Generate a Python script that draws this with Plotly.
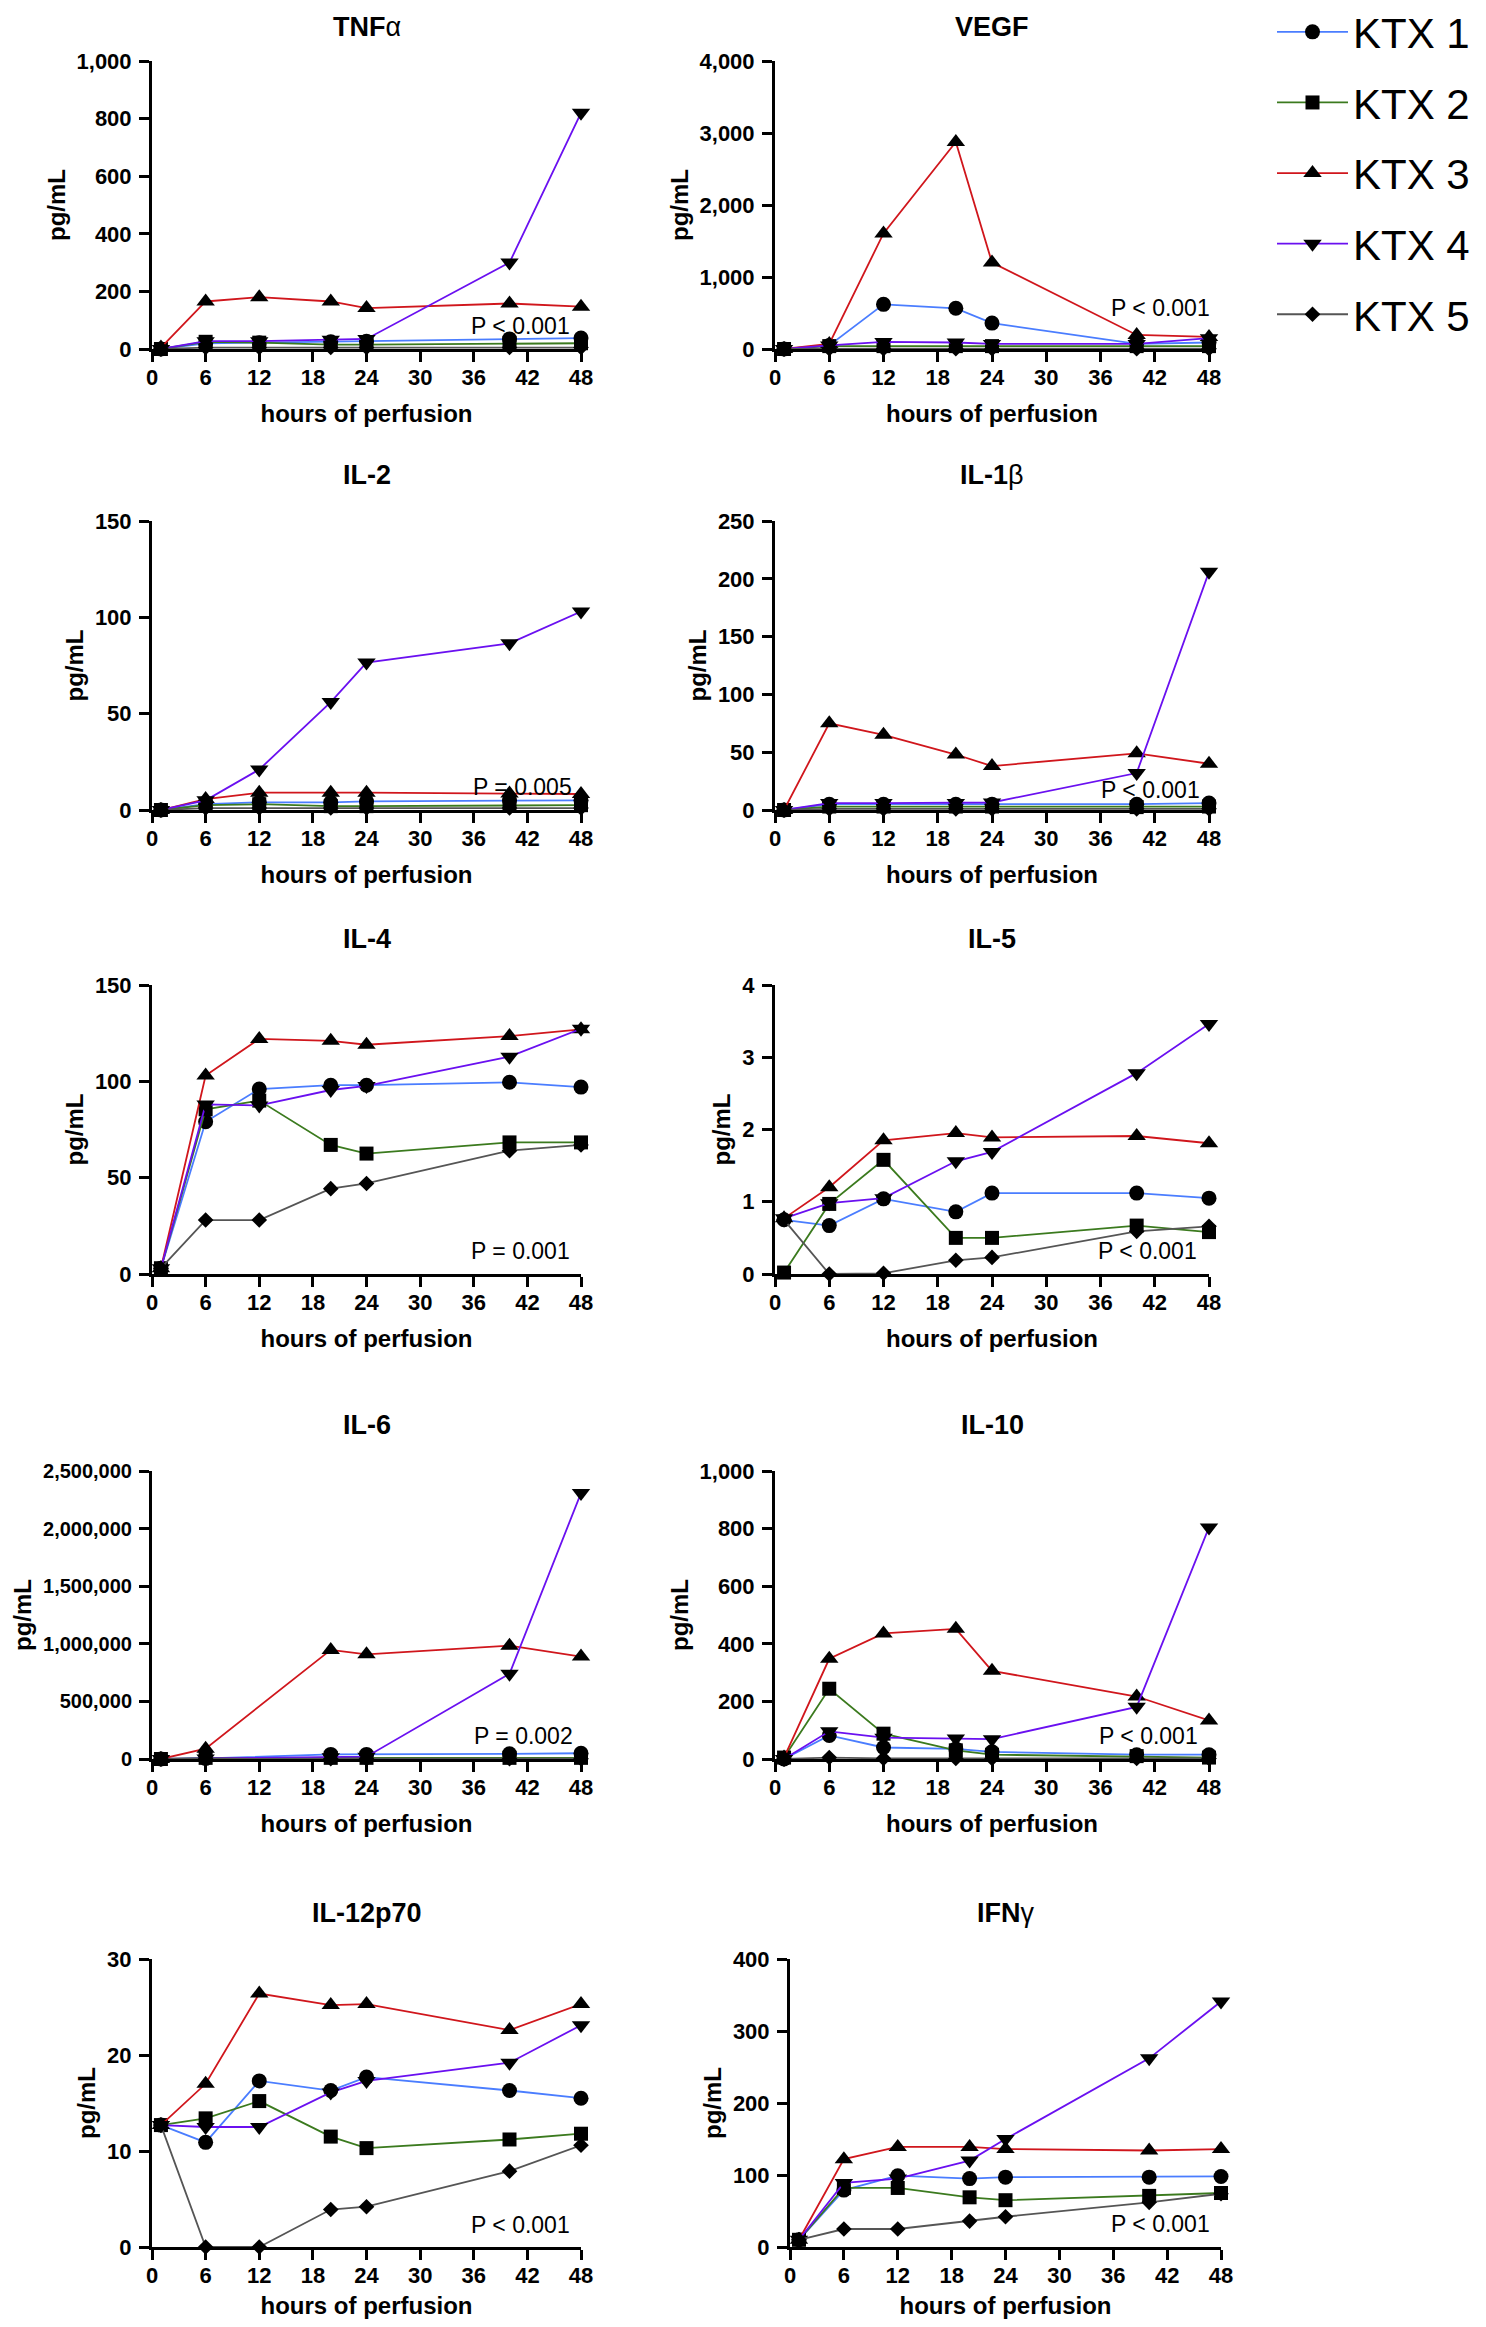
import plotly.graph_objects as go

# sampling times (hours of perfusion)
hours = [1, 6, 12, 20, 24, 40, 48]

ktx_names = ["KTX 1", "KTX 2", "KTX 3", "KTX 4", "KTX 5"]
ktx_colors = ["#4a7dff", "#3b7a1e", "#d0161c", "#6a10f0", "#555555"]
ktx_symbols = ["circle", "square", "triangle-up", "triangle-down", "diamond"]
ktx_sizes = [15, 14, 16, 16, 12]

# values per cytokine, one row per KTX (pg/mL)
tnfa = [
    [0, 20, 22, 25, 27, 35, 38],
    [0, 25, 22, 15, 15, 20, 20],
    [5, 165, 180, 165, 142, 158, 147],
    [0, 27, 27, 32, 35, 300, 820],
    [0, 5, 5, 5, 5, 5, 5],
]
vegf = [
    [0, 50, 620, 565, 360, 70, 90],
    [0, 40, 40, 40, 40, 40, 40],
    [0, 70, 1605, 2875, 1200, 195, 168],
    [0, 50, 98, 90, 70, 70, 150],
    [0, 5, 5, 5, 5, 5, 5],
]
il2 = [
    [0, 3, 4, 4, 4.5, 5, 5],
    [0, 2.5, 3, 2, 2, 2.5, 2.5],
    [0, 5.7, 9, 9, 9, 8.5, 8.3],
    [0, 5, 21, 56, 76.5, 86.5, 103],
    [0, 1, 1, 1, 1, 1, 1],
]
il1b = [
    [0, 5, 5, 5, 5, 5, 6],
    [0, 3, 3, 3, 3, 2.5, 3],
    [0, 75, 65, 48, 38, 49, 40],
    [0, 6, 6, 6, 6.5, 32, 206],
    [0, 1, 1, 1, 1, 1, 1],
]
il4 = [
    [3, 79, 96, 98, 98, 99.5, 97],
    [3, 85.5, 90, 67, 62.5, 68.3, 68.3],
    [3, 103, 122, 121, 119, 123.5, 127],
    [3, 88, 87.5, 95.5, 97.6, 112.8, 127.3],
    [3, 28, 28, 44.3, 47, 64, 67],
]
il5 = [
    [0.75, 0.67, 1.04, 0.86, 1.12, 1.12, 1.05],
    [0.02, 0.97, 1.58, 0.5, 0.5, 0.67, 0.58],
    [0.77, 1.2, 1.85, 1.95, 1.89, 1.91, 1.81],
    [0.77, 0.98, 1.05, 1.56, 1.69, 2.78, 3.46],
    [0.75, 0.0, 0.01, 0.19, 0.23, 0.59, 0.66],
]
# no 12 h sample for IL-6
il6 = [
    [0, 5000, None, 40000, 40000, 45000, 50000],
    [0, 10000, None, 10000, 10000, 10000, 10000],
    [0, 90000, None, 947000, 909000, 984000, 889000],
    [0, 5000, None, 15000, 20000, 739000, 2309000],
    [0, 2000, None, 2000, 2000, 2000, 2000],
]
il10 = [
    [0, 82, 40, 35, 25, 15, 15],
    [5, 244, 88, 30, 15, 10, 5],
    [5, 348, 436, 452, 306, 217, 134],
    [0, 96, 74, 71, 69, 181, 804],
    [0, 5, 2, 2, 2, 2, 2],
]
il12p70 = [
    [12.7, 10.9, 17.3, 16.3, 17.7, 16.3, 15.5],
    [12.7, 13.4, 15.2, 11.5, 10.3, 11.2, 11.8],
    [12.7, 17.0, 26.4, 25.2, 25.3, 22.6, 25.3],
    [12.7, 12.5, 12.5, 16.1, 17.3, 19.2, 23.1],
    [12.7, 0, 0, 3.9, 4.2, 7.9, 10.6],
]
ifng = [
    [10, 79, 99, 95, 97, 97, 98],
    [10, 82, 82, 69, 65, 71, 75],
    [10, 122, 139, 139, 136, 134, 136],
    [10, 89, 95, 120, 150, 262, 341],
    [10, 25, 25, 36, 42, 62, 74],
]

titles = ["<b>TNF</b>α", "<b>VEGF</b>", "<b>IL-2</b>", "<b>IL-1</b>β", "<b>IL-4</b>",
          "<b>IL-5</b>", "<b>IL-6</b>", "<b>IL-10</b>", "<b>IL-12p70</b>", "<b>IFN</b>γ"]
p_labels = ["P < 0.001", "P < 0.001", "P = 0.005", "P < 0.001", "P = 0.001",
            "P < 0.001", "P = 0.002", "P < 0.001", "P < 0.001", "P < 0.001"]
y_max = [1000, 4000, 150, 250, 150, 4, 2500000, 1000, 30, 400]
y_step = [200, 1000, 50, 50, 50, 1, 500000, 200, 10, 100]
panel_data = [tnfa, vegf, il2, il1b, il4, il5, il6, il10, il12p70, ifng]

# where the P label sits inside each panel (axis-domain fractions)
p_x = [0.98, 1.006, 0.984, 0.985, 0.98, 0.977, 0.986, 0.979, 0.98, 0.979]
p_y = [0.08, 0.142, 0.078, 0.07, 0.08, 0.08, 0.081, 0.081, 0.078, 0.081]

# page body has an 8px margin, so the figure is a bit smaller than the window
W, H, OFF = 1470, 2311, 8


def fx(px):
    return (px - OFF) / W


def fy(py):
    return 1 - (py - OFF) / H


col_px = [[152, 581], [775, 1209]] * 4 + [[152, 581], [790, 1221]]
row_px = [[61, 349], [521, 810], [985, 1274], [1471, 1759], [1959, 2247]]

FONT = "Liberation Sans, Arial, sans-serif"

fig = go.Figure()
annotations = []

for i, (series, title) in enumerate(zip(panel_data, titles)):
    n = "" if i == 0 else str(i + 1)
    xa, ya = "x" + n, "y" + n
    for k in range(5):
        fig.add_trace(go.Scatter(
            x=hours, y=series[k], xaxis=xa, yaxis=ya,
            mode="lines+markers", name=ktx_names[k],
            legendgroup=ktx_names[k], showlegend=(i == 0),
            connectgaps=True, cliponaxis=False,
            line=dict(color=ktx_colors[k], width=1.8),
            marker=dict(symbol=ktx_symbols[k], size=ktx_sizes[k], color="black"),
        ))

    axis_common = dict(showline=True, linecolor="black", linewidth=3,
                       ticks="outside", ticklen=10, tickwidth=3, tickcolor="black",
                       showgrid=False, zeroline=False)
    # the long IL-6 labels need a slightly smaller font to leave room for the title
    ytick_size = 20 if y_max[i] >= 1000000 else 22
    top, bottom = row_px[i // 2]
    fig.update_layout({
        "xaxis" + n: dict(domain=[fx(col_px[i][0]), fx(col_px[i][1])], anchor=ya,
                          range=[0, 48], dtick=6, ticklabelstandoff=-3,
                          tickfont=dict(family=FONT, size=22, color="black", weight="bold"),
                          title=dict(text="hours of perfusion", standoff=16,
                                     font=dict(family=FONT, size=24, color="black", weight="bold")),
                          **axis_common),
        "yaxis" + n: dict(domain=[fy(bottom), fy(top)], anchor=xa, range=[0, y_max[i]],
                          dtick=y_step[i], tickformat=",", ticklabelstandoff=3,
                          tickfont=dict(family=FONT, size=ytick_size, color="black", weight="bold"),
                          title=dict(text="pg/mL", standoff=5,
                                     font=dict(family=FONT, size=24, color="black", weight="bold")),
                          **axis_common),
    })

    # first-row titles would be clipped at the page top, keep them a little lower
    annotations.append(dict(text=title, xref=xa + " domain", yref=ya + " domain",
                            x=0.5, y=1, yshift=34 if i < 2 else 46, yanchor="middle",
                            showarrow=False,
                            font=dict(family=FONT, size=27, color="black")))
    annotations.append(dict(text=p_labels[i], xref=xa + " domain", yref=ya + " domain",
                            x=p_x[i], y=p_y[i], xanchor="right", yanchor="middle",
                            showarrow=False,
                            font=dict(family=FONT, size=23, color="black")))

fig.update_layout(
    width=W, height=H,
    margin=dict(l=0, r=0, t=0, b=0, autoexpand=False),
    paper_bgcolor="white", plot_bgcolor="white",
    annotations=annotations,
    legend=dict(x=fx(1272), y=1.0043, xanchor="left", yanchor="top",
                font=dict(family=FONT, size=42, color="black"),
                itemwidth=71, tracegroupgap=13, bgcolor="rgba(0,0,0,0)"),
)

fig.write_html("out.html")
